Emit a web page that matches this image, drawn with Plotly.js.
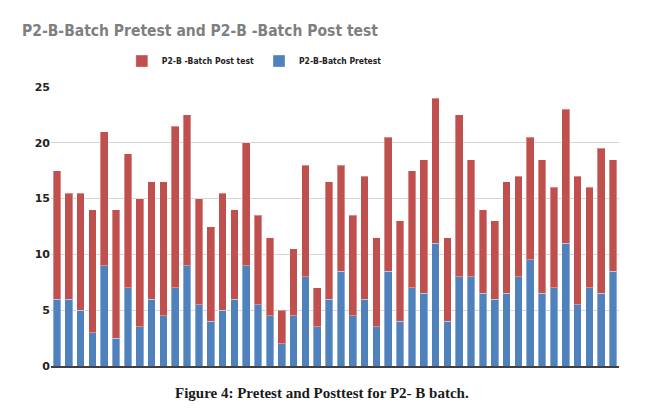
<!DOCTYPE html>
<html>
<head>
<meta charset="utf-8">
<script src="https://cdn.plot.ly/plotly-3.0.1.min.js"></script>
<style>html,body{margin:0;padding:0;background:#fff;}#chart{width:653px;height:409px;}</style>
</head>
<body>
<div id="chart"></div>
<script>
const categories = Array.from({length: 48}, (_, i) => String(i + 1));
const pretest = [6, 6, 5, 3, 9, 2.5, 7, 3.5, 6, 4.5, 7, 9, 5.5, 4, 5, 6, 9, 5.5, 4.5, 2, 4.5, 8, 3.5, 6, 8.5, 4.5, 6, 3.5, 8.5, 4, 7, 6.5, 11, 4, 8, 8, 6.5, 6, 6.5, 8, 9.5, 6.5, 7, 11, 5.5, 7, 6.5, 8.5];
const posttest = [11.5, 9.5, 10.5, 11, 12, 11.5, 12, 11.5, 10.5, 12, 14.5, 13.5, 9.5, 8.5, 10.5, 8, 11, 8, 7, 3, 6, 10, 3.5, 10.5, 9.5, 9, 11, 8, 12, 9, 10.5, 12, 13, 7.5, 14.5, 10.5, 7.5, 7, 10, 9, 11, 12, 9, 12, 11.5, 9, 13, 10];
const yTicks = [0, 5, 10, 15, 20, 25];

const traces = [
  {type: 'bar', name: 'P2-B-Batch Pretest', x: categories, y: pretest,
   marker: {color: '#4F81BD', line: {color: 'rgba(255,255,255,0.35)', width: 1}}},
  {type: 'bar', name: 'P2-B -Batch Post test', x: categories, y: posttest,
   marker: {color: '#C0504D', line: {color: 'rgba(255,255,255,0.35)', width: 1}}}
];

const layout = {
  width: 653, height: 409,
  margin: {l: 51, r: 34, t: 87, b: 43},
  paper_bgcolor: '#fff', plot_bgcolor: '#fff',
  barmode: 'stack', bargap: 0.36,
  showlegend: true,
  title: {text: 'P2-B-Batch Pretest and P2-B -Batch Post test',
    font: {family: '"DejaVu Sans Condensed", sans-serif', size: 15.5, color: '#7f7f7f', weight: 600},
    x: 22/653, xanchor: 'left', xref: 'container', y: 1 - 31/409, yanchor: 'middle', yref: 'container'},
  legend: {orientation: 'h', traceorder: 'reversed', x: 0.358, xanchor: 'center', y: 1.093, yanchor: 'middle',
    itemwidth: 30,
    font: {family: '"DejaVu Sans Condensed", sans-serif', size: 8.5, color: '#222', weight: 'bold'}},
  xaxis: {type: 'category', showticklabels: false, ticks: '', showgrid: false,
    showline: true, linecolor: '#404040', linewidth: 2, fixedrange: true},
  yaxis: {range: [0, 25], tickvals: yTicks, showgrid: true, gridcolor: '#d4d4d4', gridwidth: 1,
    zeroline: false, showline: false, ticks: '',
    tickfont: {family: '"DejaVu Sans", sans-serif', size: 11, color: '#222', weight: 'bold'}},
  annotations: [{text: '<b>Figure 4: Pretest and Posttest for P2- B batch.</b>', xref: 'paper', yref: 'paper',
    x: (322-51)/568, y: 0, yshift: -27, xanchor: 'center', yanchor: 'middle', showarrow: false,
    font: {family: '"Liberation Serif", serif', size: 15, color: '#1a1a1a'}}]
};

Plotly.newPlot('chart', traces, layout, {displayModeBar: false, staticPlot: true});
</script>
</body>
</html>
